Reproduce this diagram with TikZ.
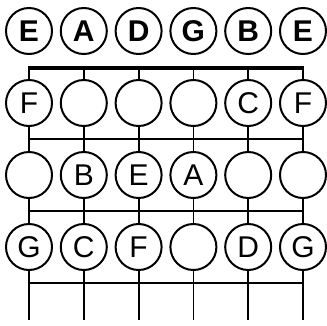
\documentclass[tikz,border=0pt]{standalone}
\usepackage{fontspec}
\setmainfont{Liberation Sans}
\begin{document}
\begin{tikzpicture}[x=1pt,y=-1pt,
  note/.style={circle,draw,line width=2pt,fill=white,minimum size=46pt,inner sep=0pt,font=\fontsize{30}{30}\selectfont},
  opennote/.style={note,font=\fontsize{30}{30}\selectfont\bfseries},
  stringline/.style={line width=1.8pt},
  fretline/.style={line width=1.8pt},
  nutline/.style={line width=4.5pt}]
\useasboundingbox (0,0) rectangle (327,325);
% string coordinates
\foreach \i/\x in {1/29,2/83.8,3/138.6,4/193.4,5/248.2,6/303}{
  \coordinate (s\i top) at (\x,68);
  \coordinate (s\i bot) at (\x,320);
}
\foreach \i in {1,...,6}{\draw[stringline] (s\i top) -- (s\i bot);}
% frets
\foreach \j/\y in {1/139,2/211,3/283}{
  \coordinate (f\j L) at (29,\y);
  \coordinate (f\j R) at (303,\y);
  \draw[fretline] (f\j L) -- (f\j R);
}
\coordinate (nutL) at (28.1,68);
\coordinate (nutR) at (303.9,68);
\draw[nutline] (nutL) -- (nutR);
% open strings
\foreach \i/\x/\t in {1/29/E,2/83.8/A,3/138.6/D,4/193.4/G,5/248.2/B,6/303/E}{
  \node[opennote] (o\i) at (\x,31) {\t};
}
% fret 1
\foreach \i/\x/\t in {1/29/F,2/83.8/,3/138.6/,4/193.4/,5/248.2/C,6/303/F}{
  \node[note] (a\i) at (\x,103) {\t};
}
% fret 2
\foreach \i/\x/\t in {1/29/,2/83.8/B,3/138.6/E,4/193.4/A,5/248.2/,6/303/}{
  \node[note] (b\i) at (\x,175) {\t};
}
% fret 3
\foreach \i/\x/\t in {1/29/G,2/83.8/C,3/138.6/F,4/193.4/,5/248.2/D,6/303/G}{
  \node[note] (c\i) at (\x,247) {\t};
}
\end{tikzpicture}
\end{document}
